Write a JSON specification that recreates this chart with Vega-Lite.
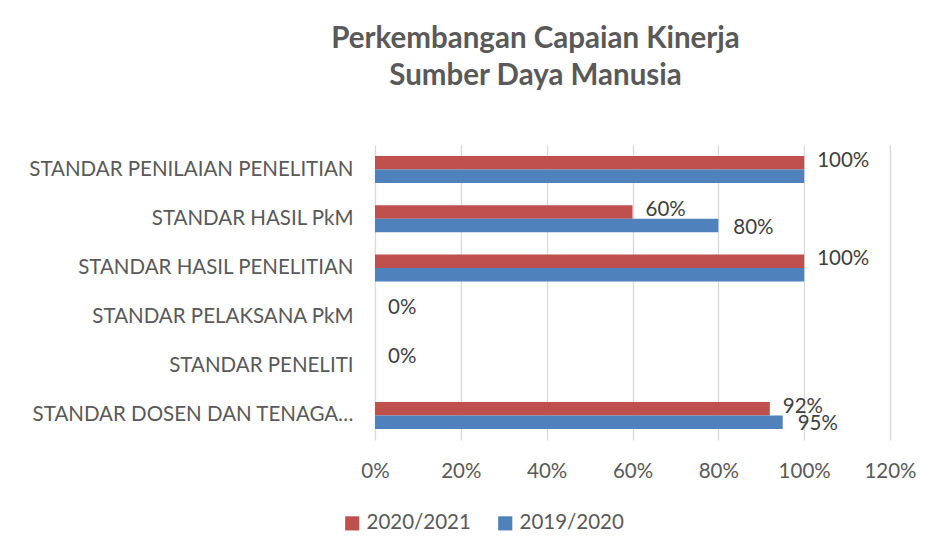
{
  "$schema": "https://vega.github.io/schema/vega-lite/v6.json",
  "width": 515,
  "height": 295,
  "autosize": {"type": "none"},
  "padding": {"left": 375, "top": 145, "right": 41, "bottom": 113},
  "background": "white",
  "config": {"font": "Lato", "view": {"stroke": null}},
  "title": {
    "text": ["Perkembangan Capaian Kinerja", "Sumber Daya Manusia"],
    "fontSize": 29.5,
    "fontWeight": "bold",
    "color": "#595959",
    "anchor": "middle",
    "dx": -97,
    "lineHeight": 37,
    "offset": 54
  },
  "data": {
    "values": [
      {"kategori": "STANDAR PENILAIAN PENELITIAN", "periode": "2020/2021", "nilai": 100, "label": "100%"},
      {"kategori": "STANDAR PENILAIAN PENELITIAN", "periode": "2019/2020", "nilai": 100, "label": ""},
      {"kategori": "STANDAR HASIL PkM", "periode": "2020/2021", "nilai": 60, "label": "60%"},
      {"kategori": "STANDAR HASIL PkM", "periode": "2019/2020", "nilai": 80, "label": "80%"},
      {"kategori": "STANDAR HASIL PENELITIAN", "periode": "2020/2021", "nilai": 100, "label": "100%"},
      {"kategori": "STANDAR HASIL PENELITIAN", "periode": "2019/2020", "nilai": 100, "label": ""},
      {"kategori": "STANDAR PELAKSANA PkM", "periode": "2020/2021", "nilai": 0, "label": "0%"},
      {"kategori": "STANDAR PELAKSANA PkM", "periode": "2019/2020", "nilai": 0, "label": ""},
      {"kategori": "STANDAR PENELITI", "periode": "2020/2021", "nilai": 0, "label": "0%"},
      {"kategori": "STANDAR PENELITI", "periode": "2019/2020", "nilai": 0, "label": ""},
      {"kategori": "STANDAR DOSEN DAN TENAGA…", "periode": "2020/2021", "nilai": 92, "label": "92%"},
      {"kategori": "STANDAR DOSEN DAN TENAGA…", "periode": "2019/2020", "nilai": 95, "label": "95%"}
    ]
  },
  "encoding": {
    "y": {
      "field": "kategori",
      "type": "nominal",
      "sort": ["STANDAR PENILAIAN PENELITIAN", "STANDAR HASIL PkM", "STANDAR HASIL PENELITIAN", "STANDAR PELAKSANA PkM", "STANDAR PENELITI", "STANDAR DOSEN DAN TENAGA…"],
      "scale": {"paddingInner": 0.45, "paddingOuter": 0.225},
      "axis": {
        "title": null,
        "domain": false,
        "ticks": false,
        "labelFontSize": 20.5,
        "labelColor": "#595959",
        "labelPadding": 22,
        "labelLimit": 400
      }
    },
    "yOffset": {"field": "periode", "type": "nominal", "sort": ["2020/2021", "2019/2020"]},
    "x": {
      "field": "nilai",
      "type": "quantitative",
      "scale": {"domain": [0, 120]},
      "axis": {
        "title": null,
        "values": [0, 20, 40, 60, 80, 100, 120],
        "labelExpr": "datum.value + '%'",
        "labelFlush": false,
        "labelOverlap": false,
        "domain": false,
        "ticks": false,
        "gridColor": "#d9d9d9",
        "gridWidth": 1.3,
        "labelFontSize": 20.5,
        "labelColor": "#595959",
        "labelPadding": 21
      }
    }
  },
  "layer": [
    {
      "mark": {"type": "bar"},
      "encoding": {
        "color": {
          "field": "periode",
          "type": "nominal",
          "scale": {"domain": ["2020/2021", "2019/2020"], "range": ["#C0504D", "#4F81BD"]},
          "legend": {
            "title": null,
            "orient": "none",
            "direction": "horizontal",
            "legendX": -33,
            "legendY": 368,
            "symbolType": "square",
            "symbolSize": 200,
            "symbolStrokeWidth": 0,
            "labelFontSize": 20.5,
            "labelColor": "#595959",
            "labelOffset": 4,
            "columnPadding": 24
          }
        }
      }
    },
    {
      "transform": [{"filter": "datum.label != '' && datum.periode == '2020/2021'"}],
      "mark": {"type": "text", "align": "left", "baseline": "middle", "dx": 13, "dy": -2, "fontSize": 20.5, "color": "#404040"},
      "encoding": {"text": {"field": "label"}}
    },
    {
      "transform": [{"filter": "datum.label != '' && datum.periode == '2019/2020'"}],
      "mark": {"type": "text", "align": "left", "baseline": "middle", "dx": 15, "dy": 2, "fontSize": 20.5, "color": "#404040"},
      "encoding": {"text": {"field": "label"}}
    }
  ]
}
